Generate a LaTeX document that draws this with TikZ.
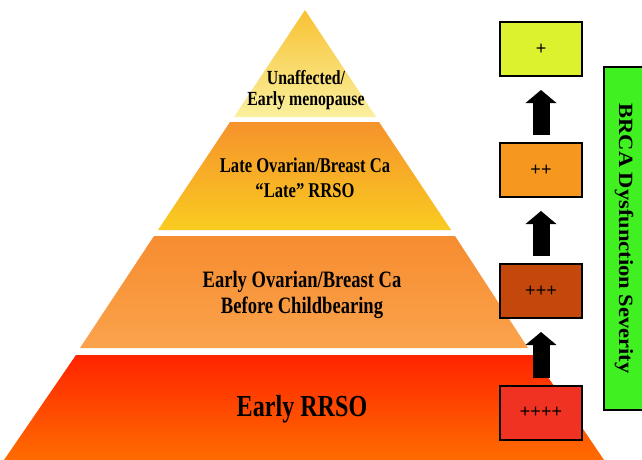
\documentclass[tikz,border=0pt]{standalone}
\usepackage{fontspec}
\usetikzlibrary{arrows.meta}
\newfontfamily\pyrfont{Liberation Serif}[FakeStretch=0.79]
\newfontfamily\plusfont{Liberation Sans}
\newfontfamily\barfont{Liberation Serif}
\definecolor{tAtop}{HTML}{F8C233}
\definecolor{tAbot}{HTML}{FAF09E}
\definecolor{tBtop}{HTML}{F6922C}
\definecolor{tBbot}{HTML}{F9CC20}
\definecolor{tCtop}{HTML}{F78C30}
\definecolor{tCbot}{HTML}{FAA34C}
\definecolor{tDtop}{HTML}{FF2400}
\definecolor{tDbot}{HTML}{FF6C00}
\definecolor{bxA}{HTML}{DDF22E}
\definecolor{bxB}{HTML}{F7981E}
\definecolor{bxC}{HTML}{C4470C}
\definecolor{bxD}{HTML}{EF3222}
\definecolor{barfill}{HTML}{40F020}
\tikzset{
  tier/.style={draw=none},
  tiertext/.style={anchor=base, inner sep=0pt, text=black},
  sevbox/.style={draw=black, line width=2pt, minimum width=82pt, minimum height=54pt,
    inner sep=0pt, font=\plusfont\fontsize{18}{18}\selectfont},
  blockarrow/.style={line width=17pt, black,
    -{Triangle[length=13pt,width=31pt,line width=0pt]},
    shorten <=7pt, shorten >=13pt},
  sevbar/.style={draw=black, line width=2pt, fill=barfill, rotate=-90,
    minimum width=343pt, minimum height=40pt, inner sep=0pt,
    font=\barfont\bfseries\fontsize{22.5}{22.5}\selectfont}
}
\begin{document}
\begin{tikzpicture}[x=1pt,y=-1pt]
\useasboundingbox (0,0) rectangle (642,459);
\clip (0,0) rectangle (642,459);
\fill[white] (0,0) rectangle (642,459);
% pyramid tiers
\path[tier, top color=tAtop, bottom color=tAbot] (305,10) -- (376,117) -- (234,117) -- cycle;
\path[tier, top color=tBtop, bottom color=tBbot] (230,122) -- (379,122) -- (451,230) -- (158,230) -- cycle;
\path[tier, top color=tCtop, bottom color=tCbot] (154,236) -- (455,236) -- (528,348) -- (80,348) -- cycle;
\path[tier, top color=tDtop, bottom color=tDbot] (76,355) -- (533,355) -- (604,460) -- (4,460) -- cycle;
% tier texts
\node[tiertext, font=\pyrfont\bfseries\fontsize{20}{20}\selectfont] (uA) at (306,84) {Unaffected/};
\node[tiertext, font=\pyrfont\bfseries\fontsize{20}{20}\selectfont] (uB) at (306,105) {Early menopause};
\node[tiertext, font=\pyrfont\bfseries\fontsize{21}{22}\selectfont] (lA) at (305,172) {Late Ovarian/Breast Ca};
\node[tiertext, font=\pyrfont\bfseries\fontsize{21}{22}\selectfont] (lB) at (305,197) {“Late” RRSO};
\node[tiertext, font=\pyrfont\bfseries\fontsize{23.5}{24}\selectfont] (eA) at (302,287) {Early Ovarian/Breast Ca};
\node[tiertext, font=\pyrfont\bfseries\fontsize{23.5}{24}\selectfont] (eB) at (302,313) {Before Childbearing};
\node[tiertext, font=\pyrfont\bfseries\fontsize{30.5}{30}\selectfont] (rr) at (302,416) {Early RRSO};
% severity boxes
\node[sevbox, fill=bxA] (b1) at (541,49) {+};
\node[sevbox, fill=bxB] (b2) at (541,170) {++};
\node[sevbox, fill=bxC] (b3) at (541,291) {+++};
\node[sevbox, fill=bxD] (b4) at (541,412.5) {++++};
% arrows
\draw[blockarrow] (b2.north) -- (b1.south);
\draw[blockarrow] (b3.north) -- (b2.south);
\draw[blockarrow] (b4.north) -- (b3.south);
% severity bar
\node[sevbar] (bar) at (624,238.5) {\raisebox{3pt}{\scalebox{1}[0.9]{BRCA Dysfunction Severity}}};
\end{tikzpicture}
\end{document}
